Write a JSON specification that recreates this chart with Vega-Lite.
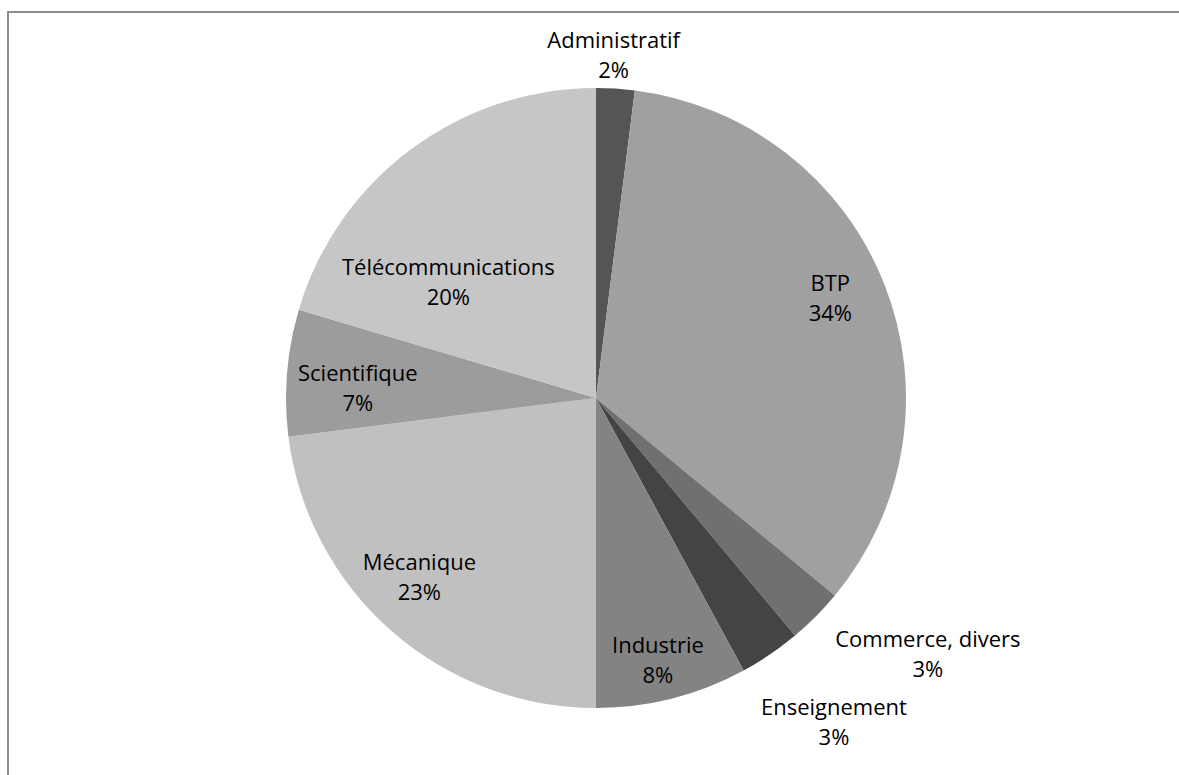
{
  "$schema": "https://vega.github.io/schema/vega-lite/v6.json",
  "width": 1176,
  "height": 772,
  "autosize": {"type": "none"},
  "padding": {"left": 8, "top": 12, "right": -5, "bottom": -9},
  "background": "white",
  "view": {"stroke": "#8c8c8c", "strokeWidth": 2, "fill": "white"},
  "config": {"text": {"font": "Open Sans", "fontSize": 22, "lineHeight": 30, "color": "#000000"}},
  "data": {"values": [
    {"category": "Administratif", "value": 2.0},
    {"category": "BTP", "value": 34.0},
    {"category": "Commerce, divers", "value": 2.9},
    {"category": "Enseignement", "value": 3.2},
    {"category": "Industrie", "value": 7.9},
    {"category": "Mécanique", "value": 23.0},
    {"category": "Scientifique", "value": 6.6},
    {"category": "Télécommunications", "value": 20.4}
  ]},
  "transform": [{"calculate": "[datum.category, format(datum.value/100, '.0%')]", "as": "label"}],
  "encoding": {
    "theta": {"field": "value", "type": "quantitative", "stack": true},
    "order": {"field": "category", "sort": "ascending"}
  },
  "layer": [
    {
      "mark": {"type": "arc", "outerRadius": 310},
      "encoding": {
        "color": {"field": "category", "type": "nominal", "legend": null,
          "scale": {"domain": ["Administratif", "BTP", "Commerce, divers", "Enseignement", "Industrie", "Mécanique", "Scientifique", "Télécommunications"],
                    "range": ["#555555", "#a0a0a0", "#707070", "#444444", "#838383", "#c0c0c0", "#9c9c9c", "#c6c6c6"]}}
      }
    },
    {
      "mark": {"type": "text", "radius": 252, "dy": -21},
      "encoding": {"text": {"condition": {"test": "datum.category === 'BTP'", "field": "label"}, "value": ""}}
    },
    {
      "mark": {"type": "text", "radius": 252, "dy": 4},
      "encoding": {"text": {"condition": {"test": "datum.category === 'Industrie'", "field": "label"}, "value": ""}}
    },
    {
      "mark": {"type": "text", "radius": 252, "dx": -10, "dy": -24},
      "encoding": {"text": {"condition": {"test": "datum.category === 'Mécanique'", "field": "label"}, "value": ""}}
    },
    {
      "mark": {"type": "text", "radius": 252, "dx": 13, "dy": -3},
      "encoding": {"text": {"condition": {"test": "datum.category === 'Scientifique'", "field": "label"}, "value": ""}}
    },
    {
      "mark": {"type": "text", "radius": 252, "dx": 3, "dy": 72},
      "encoding": {"text": {"condition": {"test": "datum.category === 'Télécommunications'", "field": "label"}, "value": ""}}
    },
    {
      "mark": {"type": "text", "radius": 345, "dx": -4, "dy": -13},
      "encoding": {"text": {"condition": {"test": "datum.category === 'Administratif'", "field": "label"}, "value": ""}}
    },
    {
      "mark": {"type": "text", "radius": 420, "dx": 34, "dy": -54},
      "encoding": {"text": {"condition": {"test": "datum.category === 'Commerce, divers'", "field": "label"}, "value": ""}}
    },
    {
      "mark": {"type": "text", "radius": 402, "dx": 12, "dy": -22},
      "encoding": {"text": {"condition": {"test": "datum.category === 'Enseignement'", "field": "label"}, "value": ""}}
    }
  ]
}
